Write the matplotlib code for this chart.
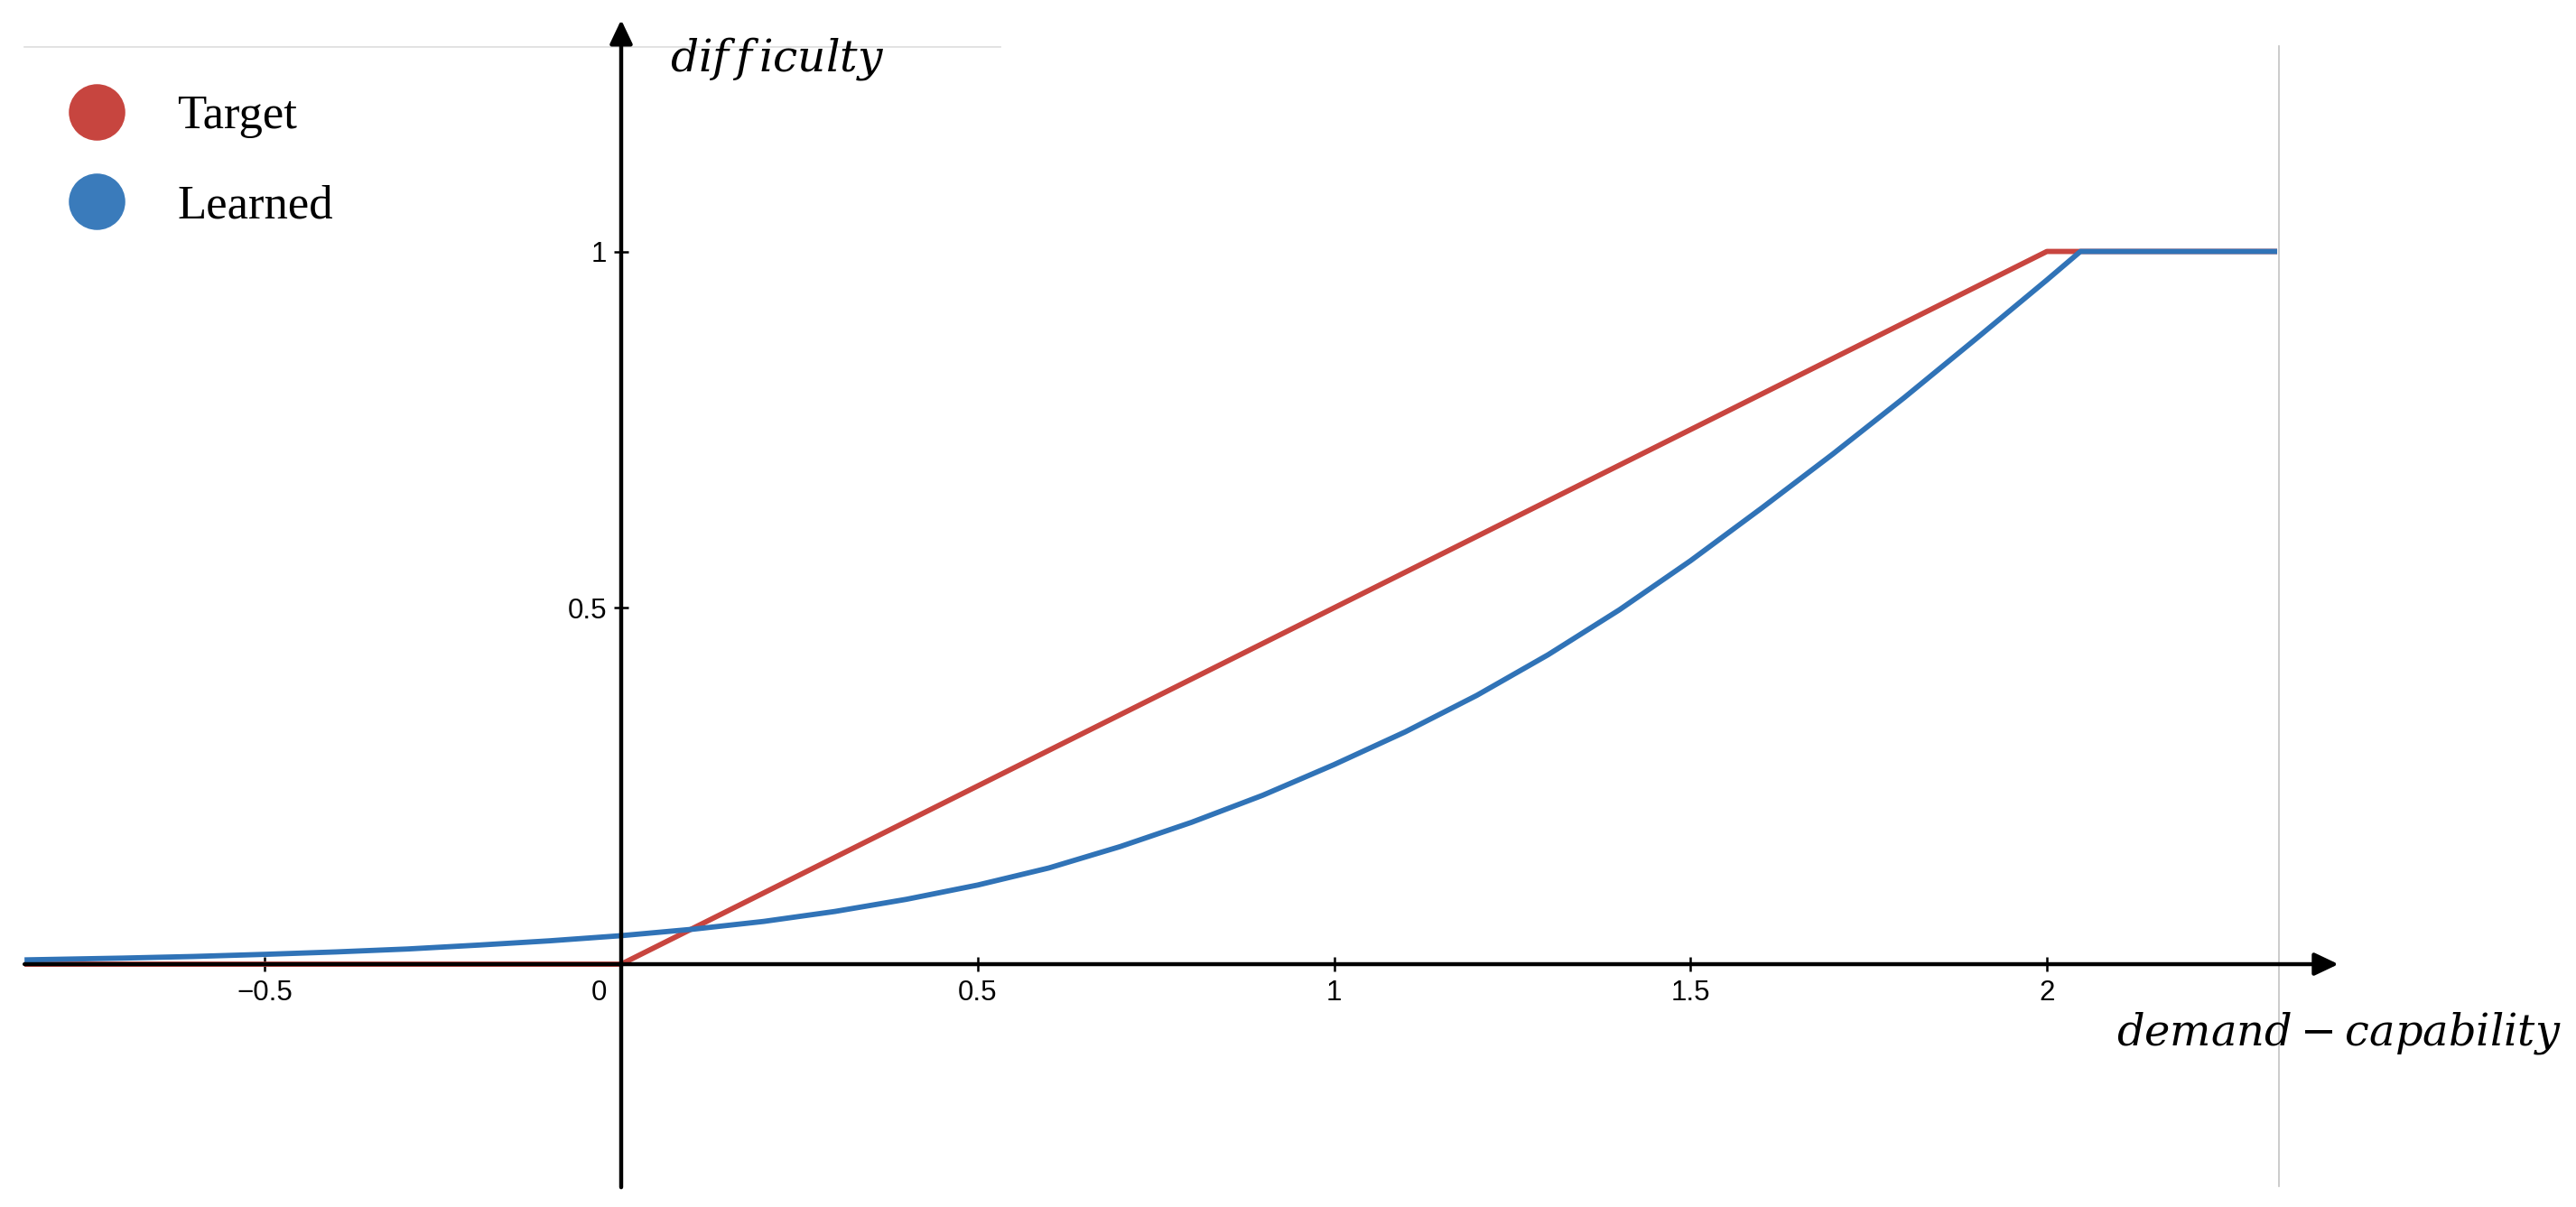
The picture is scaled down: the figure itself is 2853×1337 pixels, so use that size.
import matplotlib
matplotlib.use('Agg')
import matplotlib.pyplot as plt
from matplotlib.lines import Line2D

plt.rcParams['mathtext.fontset'] = 'dejavuserif'

# target curve (piecewise linear)
target_x = [-0.837, 0.0, 2.0, 2.323]
target_y = [0.0, 0.0, 1.0, 1.0]

# learned curve
learned_x = [-0.837, -0.7, -0.6, -0.5, -0.4, -0.3, -0.2, -0.1, 0.0, 0.1, 0.2, 0.3, 0.4, 0.5,
             0.6, 0.7, 0.8, 0.9, 1.0, 1.1, 1.2, 1.3, 1.4, 1.5, 1.6, 1.7, 1.8, 1.9, 2.0,
             2.047, 2.323]
learned_y = [0.006, 0.0085, 0.0108, 0.0138, 0.0172, 0.0213, 0.0268, 0.0328, 0.040, 0.049,
             0.060, 0.074, 0.091, 0.111, 0.135, 0.165, 0.199, 0.237, 0.280, 0.326, 0.377,
             0.434, 0.497, 0.566, 0.640, 0.716, 0.795, 0.877, 0.960, 1.0, 1.0]

xticks = [-0.5, 0.5, 1, 1.5, 2]
xticklabels = ['\u22120.5', '0.5', '1', '1.5', '2']
yticks = [0.5, 1]
yticklabels = ['0.5', '1']

red = '#C8453F'
blue = '#3073B7'

fig = plt.figure(figsize=(28.53, 13.37), dpi=100)
ax = fig.add_axes([0, 0, 1, 1])
ax.set_xlim(-0.8714, 2.7422)
ax.set_ylim(-0.3407, 1.3528)

# faint frame lines
ax.plot([-0.837, 0.532], [1.287, 1.287], color='#DDDDDD', lw=1.2)
ax.plot([2.325, 2.325], [-0.312, 1.288], color='#C4C4C4', lw=1.2)

ax.plot(target_x, target_y, color=red, lw=4.2, solid_capstyle='butt')
ax.plot(learned_x, learned_y, color=blue, lw=4.2, solid_capstyle='butt')

# axes with arrows
arrow = dict(arrowstyle='-|>,head_length=0.8,head_width=0.38', color='black', lw=3.2,
             mutation_scale=20, shrinkA=0, shrinkB=0)
ax.annotate('', xy=(2.409, 0), xytext=(-0.837, 0), arrowprops=arrow)
ax.annotate('', xy=(0, 1.325), xytext=(0, -0.313), arrowprops=arrow)

for s in ax.spines.values():
    s.set_visible(False)
ax.spines['left'].set_position(('data', 0))
ax.spines['bottom'].set_position(('data', 0))

ax.set_xticks(xticks)
ax.set_xticklabels(xticklabels)
ax.set_yticks(yticks)
ax.set_yticklabels(yticklabels)
ax.tick_params(direction='inout', length=11, width=1.8, labelsize=22.5, color='black')
ax.tick_params(axis='x', pad=6.5)
ax.tick_params(axis='y', pad=6)
for lab in ax.get_xticklabels() + ax.get_yticklabels():
    lab.set_family('Liberation Sans')

# the "0" label sits left of the y axis
ax.annotate('0', (0, 0), xytext=(-16, -17), textcoords='offset pixels',
            ha='right', va='top', fontsize=22.5, family='Liberation Sans')

ax.text(0.069, 1.254, r'$dif\,f\,iculty$', fontsize=35, ha='left', va='baseline')
ax.text(2.722, -0.113, r'$demand-capability$', fontsize=34.5, ha='right', va='baseline')

handles = [Line2D([], [], marker='o', ls='none', markersize=44, color='#C7453F', label='Target'),
           Line2D([], [], marker='o', ls='none', markersize=44, color='#3A7BBB', label='Learned')]
ax.legend(handles=handles, loc='upper left', bbox_to_anchor=(75 / 2853, 1 - 105 / 1337),
          bbox_transform=fig.transFigure, frameon=False, borderpad=0, borderaxespad=0,
          handlelength=1.2, handletextpad=1.1, labelspacing=0.97,
          prop={'family': 'Liberation Serif', 'size': 38})

plt.savefig('out.png', dpi=100)
